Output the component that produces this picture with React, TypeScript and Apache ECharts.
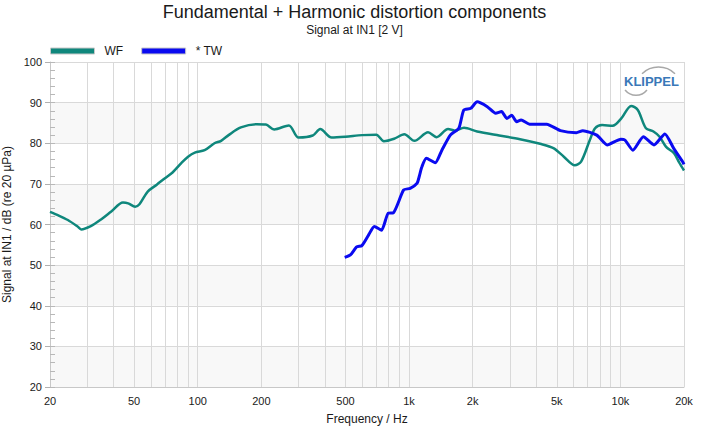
import React, { useEffect, useRef } from "react";
import * as echarts from "echarts";

const wfFreq = [20, 21.8, 24.3, 27, 28.1, 31.2, 35, 39, 44.3, 46.9, 50.6, 53, 58, 64, 70, 76, 83.6, 90, 96.9, 107.8, 120, 129, 140, 160, 190, 210, 230, 270, 300, 350, 380, 430, 500, 600, 700, 760, 850, 950, 1060, 1230, 1350, 1530, 1650, 1820, 2100, 2670, 3350, 4220, 4820, 5400, 6080, 6520, 7170, 7590, 8190, 9190, 10100, 11240, 12090, 13210, 14340, 15330, 16460, 17970, 19000, 20000];
const wfLevel = [63.1, 62.3, 61.1, 59.5, 58.8, 59.6, 61.3, 63.2, 65.4, 65.2, 64.4, 65.0, 68.1, 69.8, 71.4, 72.8, 75.1, 76.7, 77.7, 78.3, 80.0, 80.6, 82.0, 83.9, 84.7, 84.6, 83.4, 84.4, 81.4, 81.9, 83.5, 81.4, 81.6, 82.0, 82.1, 80.5, 81.1, 82.2, 80.6, 82.7, 81.5, 83.5, 83.1, 83.8, 82.9, 81.9, 81.0, 79.8, 78.8, 76.7, 74.6, 75.5, 80.8, 83.7, 84.5, 84.3, 86.1, 89.2, 88.2, 83.7, 82.9, 81.6, 79.1, 77.5, 75.2, 73.3];

const twFreq = [496, 528, 565, 598, 643, 685, 741, 797, 843, 943, 1012, 1090, 1120, 1150, 1207, 1330, 1430, 1568, 1720, 1816, 1960, 2100, 2345, 2570, 2740, 2900, 3060, 3230, 3390, 3720, 4480, 5200, 6190, 6640, 7730, 8660, 10060, 10500, 11460, 12850, 14420, 16240, 17850, 19680, 20000];
const twLevel = [51.9, 52.5, 54.5, 54.8, 57.4, 59.5, 58.6, 62.8, 62.9, 68.5, 68.9, 70.1, 72.0, 74.2, 76.3, 75.2, 78.3, 82.0, 83.7, 88.2, 88.6, 90.2, 89.0, 87.4, 87.8, 86.1, 86.9, 85.3, 85.7, 84.7, 84.7, 83.1, 82.6, 83.1, 82.0, 79.6, 81.0, 80.8, 78.3, 81.6, 79.6, 82.3, 78.8, 75.5, 74.8];

const xGridValues = [20, 30, 40, 50, 60, 70, 80, 90, 100, 200, 300, 400, 500, 600, 700, 800, 900, 1000, 2000, 3000, 4000, 5000, 6000, 7000, 8000, 9000, 10000, 20000];
const xLabelValues = [20, 50, 100, 200, 500, 1000, 2000, 5000, 10000, 20000];

const seriesNames = ["WF", "* TW"];
const seriesColors = ["#0f877c", "#0a0af0"];

const FONT = "'Liberation Sans', Arial, sans-serif";

export default function App() {
  const ref = useRef<HTMLDivElement>(null);
  useEffect(() => {
    if (!ref.current) return;
    const chart = echarts.init(ref.current, undefined, { renderer: "svg" });
    const wfData = wfFreq.map((f, i) => [f, wfLevel[i]]);
    const twData = twFreq.map((f, i) => [f, twLevel[i]]);
    chart.setOption({
      animation: false,
      backgroundColor: "#ffffff",
      textStyle: { fontFamily: FONT },
      title: [
        {
          text: "Fundamental + Harmonic distortion components",
          left: "center",
          top: 0,
          padding: [3, 5, 3, 5],
          textStyle: { fontSize: 18, fontWeight: "normal", color: "#1a1a1a", fontFamily: FONT },
        },
        {
          text: "Signal at IN1 [2 V]",
          left: "center",
          top: 21,
          padding: [3, 5, 3, 5],
          textStyle: { fontSize: 12, fontWeight: "normal", color: "#1a1a1a", fontFamily: FONT },
        },
      ],
      legend: {
        left: 50,
        top: 45,
        padding: 0,
        itemWidth: 44,
        itemHeight: 6,
        itemGap: 18,
        textStyle: { fontSize: 12, color: "#1a1a1a", fontFamily: FONT, padding: [0, 0, 0, 5] },
        data: seriesNames.map((n, i) => ({
          name: n,
          icon: "rect",
          itemStyle: { color: seriesColors[i], borderColor: "#c8c8c8", borderWidth: 1 },
        })),
      },
      grid: { left: 50, right: 25, top: 62, bottom: 40, containLabel: false, outerBoundsMode: "none" },
      xAxis: {
        type: "log",
        logBase: 10,
        min: 20,
        max: 20000,
        name: "Frequency / Hz",
        nameLocation: "middle",
        nameGap: 26,
        nameTextStyle: { fontSize: 12, color: "#1a1a1a", fontFamily: FONT },
        axisLine: { show: true, lineStyle: { color: "#c8c8c8", width: 1 } },
        axisTick: { show: false, customValues: xGridValues },
        axisLabel: {
          customValues: xLabelValues,
          fontSize: 11,
          color: "#1a1a1a",
          margin: 8,
          formatter: (v: number) => (v >= 1000 ? v / 1000 + "k" : String(v)),
        },
        splitLine: { show: true, lineStyle: { color: "#d9d9d9", width: 1 } },
        minorTick: { show: false },
        minorSplitLine: { show: false },
      },
      yAxis: [
        {
          type: "value",
          min: 20,
          max: 100,
          interval: 10,
          name: "Signal at IN1 / dB (re 20 µPa)",
          nameLocation: "middle",
          nameGap: 36,
          nameTextStyle: { fontSize: 12, color: "#1a1a1a", fontFamily: FONT },
          axisLine: { show: true, lineStyle: { color: "#c8c8c8", width: 1 } },
          axisTick: { show: true, inside: false, length: 5, lineStyle: { color: "#b0b0b0" } },
          axisLabel: { fontSize: 11, color: "#1a1a1a", margin: 8 },
          splitLine: { show: true, lineStyle: { color: "#d9d9d9", width: 1 } },
          splitArea: { show: true, areaStyle: { color: ["#f8f8f8", "#ffffff"] } },
        },
        {
          type: "value",
          min: 20,
          max: 100,
          interval: 2,
          position: "left",
          axisLine: { show: false },
          axisTick: { show: true, inside: true, length: 5, lineStyle: { color: "#b8b8b8" } },
          axisLabel: { show: false },
          splitLine: { show: false },
        },
      ],
      series: [
        {
          name: seriesNames[0],
          type: "line",
          data: wfData,
          yAxisIndex: 0,
          showSymbol: false,
          smooth: 0.3,
          lineStyle: { color: seriesColors[0], width: 2.5 },
          itemStyle: { color: seriesColors[0] },
          z: 3,
        },
        {
          name: seriesNames[1],
          type: "line",
          data: twData,
          yAxisIndex: 0,
          showSymbol: false,
          smooth: 0.2,
          lineStyle: { color: seriesColors[1], width: 3 },
          itemStyle: { color: seriesColors[1] },
          z: 4,
        },
      ],
      graphic: [
        {
          type: "arc",
          shape: { cx: 658.5, cy: 90.7, r: 23.7, startAngle: -2.34, endAngle: -0.8, clockwise: true },
          style: { stroke: "#a8a8a8", fill: "none", lineWidth: 1.5 },
          z: 10,
        },
        {
          type: "arc",
          shape: { cx: 636, cy: 81.2, r: 14.1, startAngle: 0.68, endAngle: 2.46, clockwise: true },
          style: { stroke: "#a8a8a8", fill: "none", lineWidth: 1.5 },
          z: 10,
        },
        {
          type: "text",
          x: 624,
          y: 75,
          style: { text: "KLIPPEL", fill: "#3a78b8", font: "bold 13px 'Liberation Sans', Arial, sans-serif" },
          z: 10,
        },
      ],
    });
    return () => chart.dispose();
  }, []);
  return <div ref={ref} style={{ position: "fixed", left: 0, top: 0, width: 709, height: 427 }} />;
}
